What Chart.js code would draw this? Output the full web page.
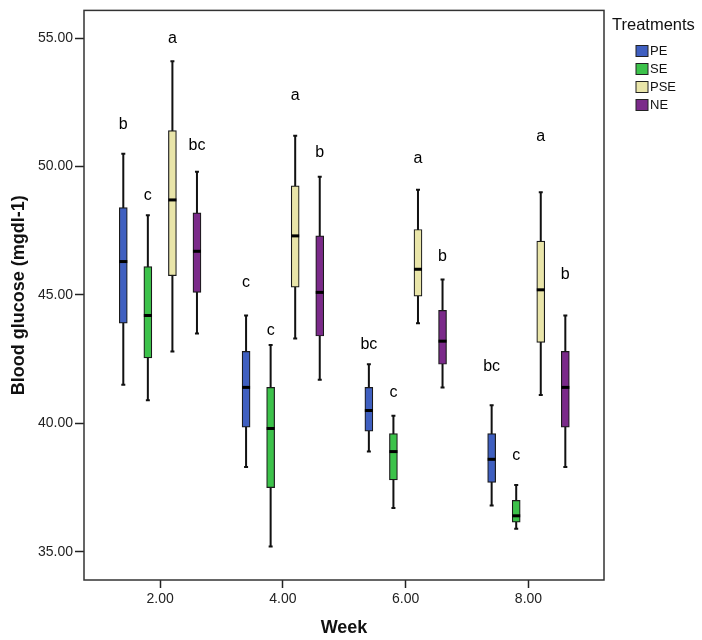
<!DOCTYPE html>
<html>
<head>
<meta charset="utf-8">
<title>Blood glucose by week</title>
<script src="https://cdn.jsdelivr.net/npm/chart.js@4.4.1/dist/chart.umd.min.js"></script>
<style>
  html, body { margin: 0; padding: 0; background: #fff; }
  #wrap { width: 702px; height: 640px; }
</style>
</head>
<body>
<div id="wrap"><canvas id="glucoseChart"></canvas></div>
<script>
// Giá trị: mỗi hàng là một nhóm điều trị, mỗi cột là một tuần
const weeks = [2, 4, 6, 8];
const treatments = ['PE', 'SE', 'PSE', 'NE'];
const yTicks = [35, 40, 45, 50, 55];

const whiskerLow = [
    [41.5, 38.3, 38.9, 36.8],
    [40.9, 35.2, 36.7, 35.9],
    [42.8, 43.3, 43.9, 41.1],
    [43.5, 41.7, 41.4, 38.3]
];
const quartile1 = [
    [43.9, 39.85, 39.7, 37.7],
    [42.55, 37.5, 37.8, 36.15],
    [45.75, 45.3, 44.95, 43.15],
    [45.1, 43.4, 42.3, 39.85]
];
const medians = [
    [46.3, 41.4, 40.5, 38.6],
    [44.2, 39.8, 38.9, 36.4],
    [48.7, 47.3, 46.0, 45.2],
    [46.7, 45.1, 43.2, 41.4]
];
const quartile3 = [
    [48.4, 42.8, 41.4, 39.6],
    [46.1, 41.4, 39.6, 37.0],
    [51.4, 49.25, 47.55, 47.1],
    [48.2, 47.3, 44.4, 42.8]
];
const whiskerHigh = [
    [50.5, 44.2, 42.3, 40.7],
    [48.1, 43.05, 40.3, 37.6],
    [54.1, 51.2, 49.1, 49.0],
    [49.8, 49.6, 45.6, 44.2]
];

// chữ cái so sánh và mức glucose nơi chúng được đặt
const letters = [
    ['b', 'c', 'bc', 'bc'],
    ['c', 'c', 'c', 'c'],
    ['a', 'a', 'a', 'a'],
    ['bc', 'b', 'b', 'b']
];
const letterAt = [
    [51.65, 45.5, 43.05, 42.2],
    [48.85, 43.6, 41.2, 38.75],
    [55.0, 52.75, 50.3, 51.15],
    [50.8, 50.55, 46.5, 45.8]
];

const colors = ['#3f5fc0', '#3cc24a', '#e9e5a9', '#7b2a8a'];
const shift = [-0.6, -0.2, 0.2, 0.6]; // vị trí hộp trong mỗi nhóm tuần
const fontFamily = 'Arial, "Liberation Sans", sans-serif';

const boxParts = {
    id: 'boxParts',
    beforeDatasetsDraw(chart) {
        const { ctx } = chart;
        const y = chart.scales.y;
        ctx.save();
        ctx.strokeStyle = '#111';
        ctx.lineWidth = 2;
        treatments.forEach((t, i) => {
            chart.getDatasetMeta(i).data.forEach((bar, j) => {
                const top = y.getPixelForValue(whiskerHigh[i][j]);
                const bottom = y.getPixelForValue(whiskerLow[i][j]);
                ctx.beginPath();
                ctx.moveTo(bar.x, top);
                ctx.lineTo(bar.x, bottom);
                ctx.moveTo(bar.x - 2, top);
                ctx.lineTo(bar.x + 2, top);
                ctx.moveTo(bar.x - 2, bottom);
                ctx.lineTo(bar.x + 2, bottom);
                ctx.stroke();
            });
        });
        ctx.restore();
    },
    afterDatasetsDraw(chart) {
        const { ctx } = chart;
        const y = chart.scales.y;
        ctx.save();
        treatments.forEach((t, i) => {
            chart.getDatasetMeta(i).data.forEach((bar, j) => {
                // trung vị
                const m = y.getPixelForValue(medians[i][j]);
                ctx.fillStyle = '#000';
                ctx.fillRect(bar.x - 4, m - 1.5, 8, 3);
                // chữ cái
                ctx.font = '16px ' + fontFamily;
                ctx.textAlign = 'center';
                ctx.textBaseline = 'middle';
                ctx.fillText(letters[i][j], bar.x, y.getPixelForValue(letterAt[i][j]));
            });
        });
        ctx.restore();
    },
    afterDraw(chart) {
        const { ctx, chartArea: a } = chart;
        ctx.save();
        ctx.strokeStyle = '#333';
        ctx.lineWidth = 1.5;
        ctx.strokeRect(a.left, a.top, a.right - a.left, a.bottom - a.top);

        // chú giải
        ctx.fillStyle = '#111';
        ctx.font = '16.5px ' + fontFamily;
        ctx.textAlign = 'left';
        ctx.textBaseline = 'middle';
        ctx.fillText('Treatments', a.right + 8, 25);
        ctx.font = '13px ' + fontFamily;
        chart.data.datasets.forEach((ds, i) => {
            const cy = 51 + i * 18;
            ctx.fillStyle = ds.backgroundColor;
            ctx.fillRect(a.right + 32, cy - 5.5, 12, 11);
            ctx.strokeStyle = '#222';
            ctx.lineWidth = 1;
            ctx.strokeRect(a.right + 32, cy - 5.5, 12, 11);
            ctx.fillStyle = '#111';
            ctx.fillText(ds.label, a.right + 46, cy + 0.5);
        });
        ctx.restore();
    }
};

const ctx = document.getElementById('glucoseChart').getContext('2d');

const glucoseChart = new Chart(ctx, {
    type: 'bar',
    data: {
        datasets: treatments.map((name, i) => ({
            label: name,
            data: weeks.map((w, j) => ({ x: w + shift[i], y: [quartile1[i][j], quartile3[i][j]] })),
            backgroundColor: colors[i],
            borderColor: '#1a1a1a',
            borderWidth: 1.2,
            borderSkipped: false,
            barThickness: 8,
            grouped: false
        }))
    },
    options: {
        responsive: true,
        maintainAspectRatio: false,
        animation: false,
        layout: { padding: { top: 7, right: 98, left: 0, bottom: 0 } },
        plugins: {
            legend: { display: false },
            tooltip: { enabled: false }
        },
        scales: {
            x: {
                type: 'linear',
                min: 0.76,
                max: 9.23,
                offset: false,
                afterBuildTicks: (s) => { s.ticks = weeks.map(v => ({ value: v })); },
                afterFit: (s) => { s.height = 60; },
                ticks: {
                    callback: (v) => Number(v).toFixed(2),
                    color: '#222',
                    font: { family: fontFamily, size: 14 },
                    padding: 3,
                    maxRotation: 0
                },
                grid: { offset: false, drawOnChartArea: false, tickLength: 8, tickColor: '#222', tickWidth: 1.5 },
                border: { display: false },
                title: {
                    display: true,
                    text: 'Week',
                    color: '#111',
                    font: { family: fontFamily, size: 18, weight: 'bold' },
                    padding: { top: 0, bottom: 1 }
                }
            },
            y: {
                min: 33.9,
                max: 56.08,
                afterBuildTicks: (s) => { s.ticks = yTicks.map(v => ({ value: v })); },
                afterFit: (s) => { s.width = 84; },
                ticks: {
                    callback: (v) => Number(v).toFixed(2),
                    color: '#222',
                    font: { family: fontFamily, size: 14 },
                    padding: 2
                },
                grid: { drawOnChartArea: false, tickLength: 9, tickColor: '#222', tickWidth: 1.5 },
                border: { display: false },
                title: {
                    display: true,
                    text: 'Blood glucose (mgdl-1)',
                    color: '#111',
                    font: { family: fontFamily, size: 18, weight: 'bold' },
                    padding: { top: 8, bottom: 0 }
                }
            }
        }
    },
    plugins: [boxParts]
});
</script>
</body>
</html>
